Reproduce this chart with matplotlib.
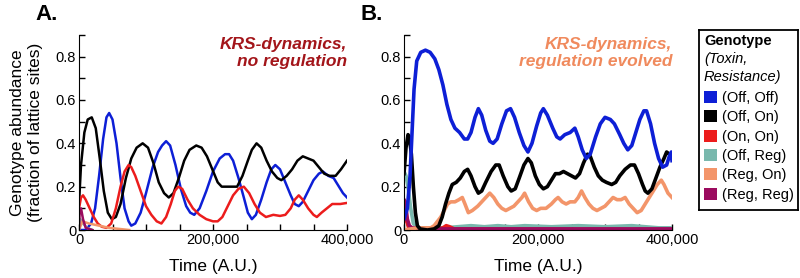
import matplotlib
matplotlib.use("Agg")
import matplotlib.pyplot as plt
from matplotlib.patches import Patch
from matplotlib.ticker import MultipleLocator, FuncFormatter

plt.rcParams['font.family'] = ['Liberation Sans', 'DejaVu Sans']

# couleurs des genotypes (Toxine, Resistance)
GENOS = ["(Off, Off)", "(Off, On)", "(On, On)", "(Off, Reg)", "(Reg, On)", "(Reg, Reg)"]
COULEURS = ["#0d1fd6", "#000000", "#ec1c1c", "#79b8ad", "#f3956a", "#9b0b5f"]

# ---- panneau A : pas de regulation (temps en milliers) ----
tA_bleu = [0, 10, 18, 24, 30, 36, 41, 45, 50, 56, 62, 68, 74, 78, 84, 92, 100, 110, 118,
           124, 130, 136, 144, 152, 160, 166, 172, 180, 190, 200, 210, 218, 224, 230, 238,
           246, 252, 258, 264, 272, 280, 287, 293, 300, 308, 316, 322, 328, 334, 342, 350,
           358, 364, 372, 380, 388, 394, 400]
vA_bleu = [0.0, 0.0, 0.03, 0.1, 0.25, 0.42, 0.52, 0.54, 0.51, 0.4, 0.24, 0.1, 0.04, 0.02,
           0.03, 0.08, 0.17, 0.29, 0.36, 0.39, 0.41, 0.39, 0.3, 0.19, 0.11, 0.08, 0.07, 0.1,
           0.18, 0.27, 0.33, 0.35, 0.35, 0.32, 0.24, 0.15, 0.08, 0.05, 0.07, 0.14, 0.22, 0.28,
           0.30, 0.28, 0.22, 0.16, 0.12, 0.11, 0.13, 0.18, 0.23, 0.26, 0.27, 0.25, 0.24, 0.2,
           0.17, 0.15]

tA_noir = [0, 3, 8, 13, 19, 25, 31, 37, 43, 49, 55, 62, 70, 78, 86, 95, 103, 111, 119, 127,
           134, 141, 149, 157, 165, 175, 183, 191, 199, 207, 213, 220, 228, 236, 244, 252,
           258, 265, 272, 280, 288, 296, 302, 310, 318, 326, 334, 342, 350, 358, 366, 374,
           383, 391, 400]
vA_noir = [0.12, 0.3, 0.45, 0.51, 0.52, 0.47, 0.33, 0.18, 0.08, 0.05, 0.06, 0.12, 0.24, 0.33,
           0.38, 0.40, 0.38, 0.31, 0.22, 0.17, 0.15, 0.17, 0.24, 0.32, 0.37, 0.39, 0.38, 0.34,
           0.28, 0.22, 0.20, 0.20, 0.20, 0.20, 0.25, 0.32, 0.37, 0.40, 0.38, 0.32, 0.27, 0.24,
           0.23, 0.25, 0.28, 0.32, 0.34, 0.33, 0.32, 0.29, 0.26, 0.25, 0.25, 0.28, 0.32]

tA_rouge = [0, 3, 6, 10, 16, 22, 28, 34, 41, 48, 55, 62, 68, 74, 78, 84, 92, 100, 108, 116,
            123, 130, 137, 143, 148, 154, 162, 170, 180, 190, 200, 207, 214, 222, 230, 238,
            246, 254, 262, 270, 279, 290, 300, 308, 316, 322, 328, 334, 342, 350, 355, 362,
            370, 378, 390, 400]
vA_rouge = [0.1, 0.15, 0.16, 0.14, 0.1, 0.06, 0.03, 0.015, 0.01, 0.03, 0.1, 0.2, 0.27, 0.3,
            0.29, 0.25, 0.18, 0.11, 0.07, 0.04, 0.03, 0.06, 0.12, 0.18, 0.2, 0.19, 0.14, 0.1,
            0.07, 0.05, 0.04, 0.04, 0.06, 0.11, 0.16, 0.19, 0.2, 0.17, 0.12, 0.08, 0.06, 0.07,
            0.065, 0.07, 0.1, 0.14, 0.16, 0.14, 0.1, 0.07, 0.06, 0.08, 0.1, 0.12, 0.12, 0.125]

tA_sarc = [0, 2, 6, 12, 20]
vA_sarc = [0.0, 0.05, 0.03, 0.01, 0.0]
tA_orange = [0, 5, 15, 30, 45, 60, 75]
vA_orange = [0.0, 0.04, 0.03, 0.02, 0.01, 0.005, 0.0]
tA_violet = [0, 1, 3, 6, 10, 20]
vA_violet = [0.0, 0.09, 0.1, 0.05, 0.01, 0.0]

# ---- panneau B : regulation evoluee ----
tB_bleu = [0, 5, 9, 12, 15, 19, 25, 32, 39, 46, 52, 58, 64, 70, 76, 83, 90, 95, 100, 106,
           111, 116, 122, 128, 133, 139, 146, 153, 159, 165, 172, 179, 185, 191, 198, 204,
           208, 214, 222, 228, 233, 240, 248, 255, 260, 266, 272, 278, 286, 293, 300, 308,
           314, 322, 328, 334, 340, 346, 352, 358, 362, 368, 374, 380, 386, 392, 396, 399, 400]
vB_bleu = [0.05, 0.1, 0.25, 0.45, 0.65, 0.78, 0.82, 0.83, 0.82, 0.79, 0.74, 0.67, 0.58, 0.51,
           0.47, 0.45, 0.42, 0.42, 0.45, 0.52, 0.56, 0.53, 0.46, 0.41, 0.40, 0.42, 0.49, 0.55,
           0.56, 0.52, 0.45, 0.39, 0.36, 0.40, 0.48, 0.54, 0.56, 0.53, 0.47, 0.43, 0.42, 0.44,
           0.45, 0.47, 0.43, 0.37, 0.33, 0.35, 0.43, 0.49, 0.52, 0.51, 0.49, 0.44, 0.40, 0.37,
           0.39, 0.45, 0.51, 0.55, 0.55, 0.49, 0.40, 0.33, 0.29, 0.30, 0.34, 0.36, 0.32]

tB_noir = [0, 3, 6, 8, 11, 14, 17, 20, 24, 35, 45, 52, 57, 62, 67, 72, 78, 84, 90, 95, 100,
           106, 111, 116, 122, 130, 137, 142, 148, 155, 160, 166, 172, 179, 185, 190, 196, 202,
           208, 214, 220, 226, 232, 238, 244, 250, 256, 262, 268, 274, 278, 284, 290, 296, 302,
           310, 316, 322, 330, 338, 344, 350, 356, 360, 364, 370, 376, 382, 388, 392, 396, 400]
vB_noir = [0.26, 0.38, 0.44, 0.43, 0.35, 0.2, 0.08, 0.02, 0.005, 0.0, 0.005, 0.02, 0.06, 0.12,
           0.17, 0.21, 0.22, 0.24, 0.27, 0.28, 0.25, 0.2, 0.17, 0.18, 0.22, 0.27, 0.3, 0.3,
           0.25, 0.2, 0.18, 0.19, 0.24, 0.3, 0.33, 0.31, 0.25, 0.21, 0.19, 0.2, 0.23, 0.26,
           0.26, 0.27, 0.26, 0.25, 0.24, 0.26, 0.31, 0.35, 0.34, 0.29, 0.25, 0.23, 0.22, 0.21,
           0.22, 0.25, 0.28, 0.3, 0.3, 0.26, 0.21, 0.18, 0.17, 0.19, 0.24, 0.29, 0.33, 0.36,
           0.35, 0.33]

tB_rouge = [0, 3, 7, 15, 50, 58, 63, 68, 75, 400]
vB_rouge = [0.12, 0.05, 0.01, 0.005, 0.005, 0.01, 0.02, 0.015, 0.005, 0.003]

tB_sarc = [0, 3, 6, 10, 14, 20, 60, 80, 100, 120, 140, 160, 180, 220, 260, 300, 340, 360,
           380, 400]
vB_sarc = [0.27, 0.25, 0.2, 0.1, 0.03, 0.01, 0.01, 0.015, 0.02, 0.015, 0.02, 0.015, 0.02,
           0.015, 0.02, 0.015, 0.02, 0.015, 0.01, 0.01]

tB_orange = [0, 10, 20, 30, 40, 45, 50, 55, 60, 65, 70, 76, 82, 87, 91, 96, 102, 110, 116,
             122, 128, 134, 140, 146, 152, 158, 164, 170, 176, 180, 186, 192, 198, 204, 212,
             220, 226, 230, 236, 242, 248, 255, 260, 265, 270, 276, 282, 288, 294, 300, 306,
             312, 318, 324, 330, 336, 342, 348, 354, 360, 366, 372, 378, 384, 388, 394, 400]
vB_orange = [0.0, 0.005, 0.01, 0.01, 0.01, 0.02, 0.04, 0.06, 0.09, 0.12, 0.13, 0.13, 0.14,
             0.15, 0.12, 0.08, 0.09, 0.11, 0.13, 0.15, 0.17, 0.15, 0.12, 0.1, 0.09, 0.1, 0.11,
             0.13, 0.15, 0.17, 0.13, 0.1, 0.09, 0.1, 0.1, 0.12, 0.14, 0.15, 0.13, 0.12, 0.13,
             0.13, 0.15, 0.18, 0.15, 0.12, 0.1, 0.09, 0.1, 0.11, 0.13, 0.15, 0.14, 0.14, 0.15,
             0.12, 0.1, 0.08, 0.09, 0.12, 0.15, 0.18, 0.21, 0.23, 0.21, 0.17, 0.15]

tB_violet = [0, 2, 5, 8, 12, 30, 400]
vB_violet = [0.14, 0.13, 0.05, 0.02, 0.01, 0.005, 0.005]

panneaux = [
    ("A.", "KRS-dynamics,\nno regulation", "#a3151a", 1.8,
     [(tA_bleu, vA_bleu, 0), (tA_noir, vA_noir, 1), (tA_rouge, vA_rouge, 2),
      (tA_sarc, vA_sarc, 3), (tA_orange, vA_orange, 4), (tA_violet, vA_violet, 5)]),
    ("B.", "KRS-dynamics,\nregulation evolved", "#f08a5d", 2.6,
     [(tB_sarc, vB_sarc, 3), (tB_rouge, vB_rouge, 2), (tB_violet, vB_violet, 5),
      (tB_orange, vB_orange, 4), (tB_noir, vB_noir, 1), (tB_bleu, vB_bleu, 0)]),
]

fig = plt.figure(figsize=(8, 2.78), dpi=100)
gauches = [79 / 800, 404 / 800]

for (lettre, note, coul_note, lw, series), x0 in zip(panneaux, gauches):
    ax = fig.add_axes([x0, 48 / 278, 268 / 800, 195 / 278])
    for t, v, i in series:
        ax.plot([k * 1000 for k in t], v, color=COULEURS[i], lw=lw, solid_joinstyle="round")
    ax.set_xlim(0, 400000)
    ax.set_ylim(0, 0.9)
    for s in ("top", "right"):
        ax.spines[s].set_visible(False)
    ax.xaxis.set_major_locator(MultipleLocator(200000))
    ax.xaxis.set_minor_locator(MultipleLocator(50000))
    ax.yaxis.set_major_locator(MultipleLocator(0.2))
    ax.yaxis.set_minor_locator(MultipleLocator(0.1))
    ax.xaxis.set_major_formatter(FuncFormatter(lambda x, p: "{:,.0f}".format(x)))
    ax.yaxis.set_major_formatter(FuncFormatter(lambda y, p: "0" if y == 0 else "%.1f" % y))
    ax.tick_params(which="both", direction="in", length=4, width=1, labelsize=10.5, pad=2)
    ax.set_xlabel("Time (A.U.)", fontsize=12.5, labelpad=9)
    ax.text(1.0, 0.99, note, transform=ax.transAxes, ha="right", va="top",
            fontsize=12.5, fontweight="bold", fontstyle="italic", color=coul_note,
            linespacing=1.15)
    fig.text(x0 - 44 / 800, 1 - 14 / 278, lettre, fontsize=16, fontweight="bold",
             va="center", ha="left")
    if lettre == "A.":
        ax.set_ylabel("Genotype abundance\n(fraction of lattice sites)", fontsize=12.5,
                      labelpad=9, linespacing=1.3)

# legende commune
lax = fig.add_axes([699 / 800, 68 / 278, 99 / 800, 180 / 278])
lax.set_xticks([]); lax.set_yticks([])
for s in lax.spines.values():
    s.set_linewidth(1.3)
lax.text(0.05, 0.939, "Genotype", transform=lax.transAxes, fontsize=10.5,
         fontweight="bold", va="center")
lax.text(0.05, 0.839, "(Toxin,", transform=lax.transAxes, fontsize=10.5,
         fontstyle="italic", va="center")
lax.text(0.05, 0.739, "Resistance)", transform=lax.transAxes, fontsize=10.5,
         fontstyle="italic", va="center")
poignees = [Patch(facecolor=c, edgecolor="none") for c in COULEURS]
lax.legend(poignees, GENOS, loc="lower left", bbox_to_anchor=(-0.04, -0.002),
           frameon=False, fontsize=10.5, handlelength=0.9, handleheight=0.9,
           handletextpad=0.35, labelspacing=0.36, borderaxespad=0.2)

fig.savefig("out.png", dpi=100)
